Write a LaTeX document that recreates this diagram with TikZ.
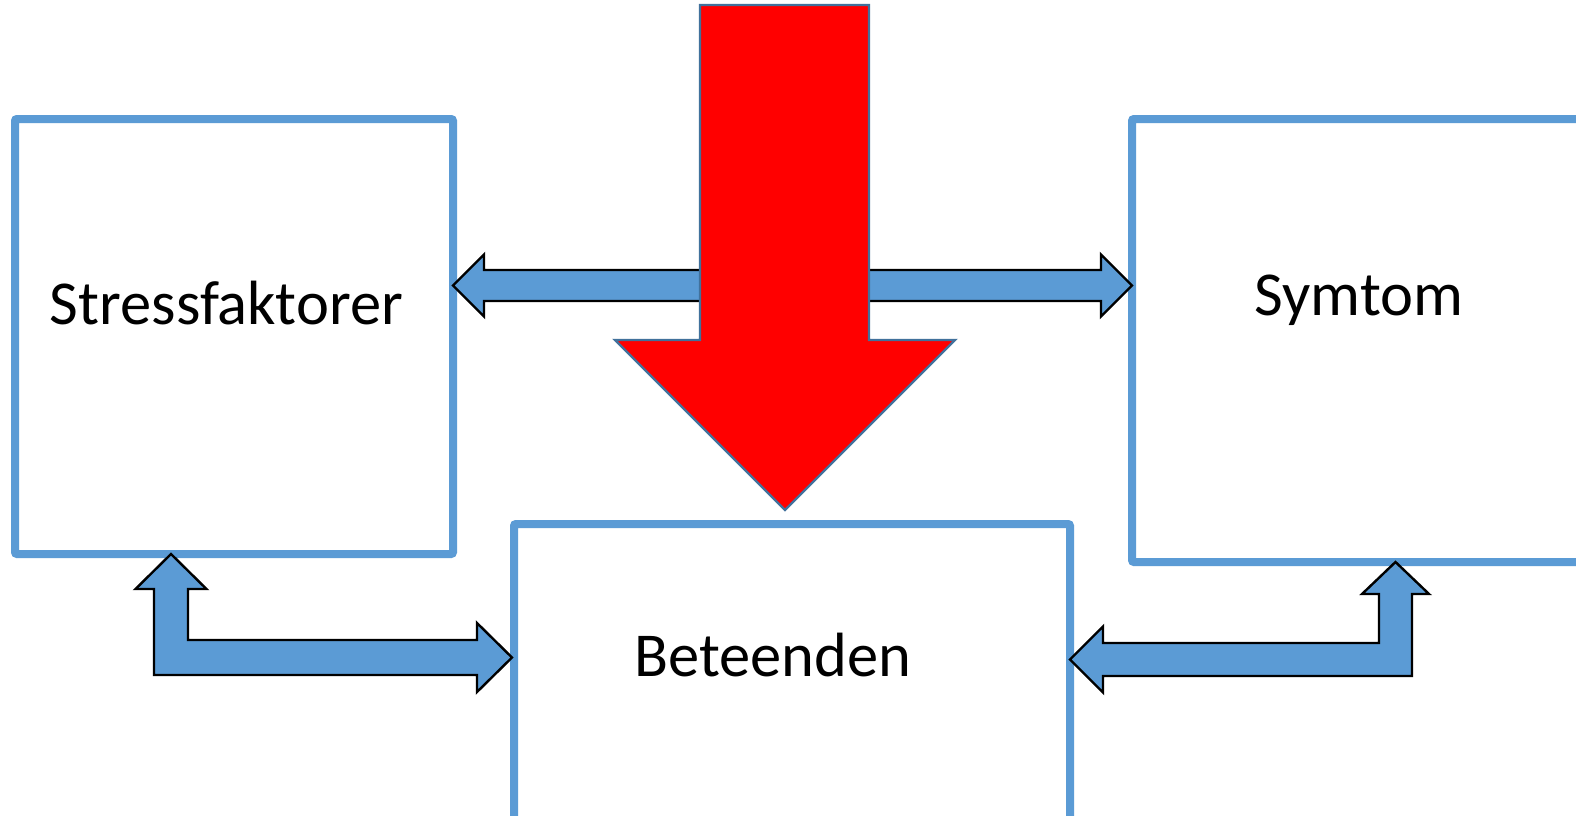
\documentclass[tikz,border=0pt]{standalone}
\usepackage{fontspec}
\setmainfont{Carlito}
\usetikzlibrary{calc}
\definecolor{boxblue}{HTML}{5B9BD5}
\definecolor{arrowedge}{HTML}{41719C}
\definecolor{bigred}{HTML}{FF0000}

\begin{document}
\begin{tikzpicture}[x=1pt,y=-1pt,
  box/.style={draw=boxblue, line width=8pt, rounded corners=2pt, fill=white,
    inner sep=0pt, outer sep=0pt, anchor=north west},
  blockarrow/.style={fill=boxblue, draw=black, line width=2.4pt, line join=miter},
  bigarrow/.style={fill=bigred, draw=arrowedge, line width=2.4pt, line join=miter},
  caption/.style={font=\fontsize{62.5}{75}\selectfont, anchor=base, inner sep=0pt}]
\useasboundingbox (0,0) rectangle (1576,816);
\clip (0,0) rectangle (1576,816);
\fill[white] (0,0) rectangle (1576,816);

% the three boxes
\node[box, minimum width=438pt, minimum height=435pt] (sf) at (15,119) {};
\node[box, minimum width=468pt, minimum height=443pt] (sy) at (1132,119) {};
\node[box, minimum width=556pt, minimum height=340pt] (be) at (514,524) {};

\node[caption] (sftext) at (226.5,324) {Stressfaktorer};
\node[caption] (sytext) at (1359,315) {Symtom};
\node[caption] (betext) at (773,676) {Beteenden};

% double arrow between Stressfaktorer and Symtom
\draw[blockarrow] (453,285.5) -- (484,254.5) -- (484,270) -- (1101,270)
  -- (1101,254.5) -- (1132,285.5) -- (1101,316.5) -- (1101,301)
  -- (484,301) -- (484,316.5) -- cycle;

% large red arrow pointing down
\draw[bigarrow] (700,5) -- (869,5) -- (869,340) -- (955,340) -- (785,510)
  -- (615,340) -- (700,340) -- cycle;

% bent arrow: Stressfaktorer <-> Beteenden
\draw[blockarrow] (171,554) -- (206.5,589) -- (188,589) -- (188,640)
  -- (477,640) -- (477,623) -- (512,657.5) -- (477,692) -- (477,675)
  -- (154,675) -- (154,589) -- (135.5,589) -- cycle;

% bent arrow: Symtom <-> Beteenden
\draw[blockarrow] (1395.5,562) -- (1429,594) -- (1412,594) -- (1412,676)
  -- (1103,676) -- (1103,692.5) -- (1070,659.5) -- (1103,626.5)
  -- (1103,643) -- (1379,643) -- (1379,594) -- (1362,594) -- cycle;
\end{tikzpicture}
\end{document}
